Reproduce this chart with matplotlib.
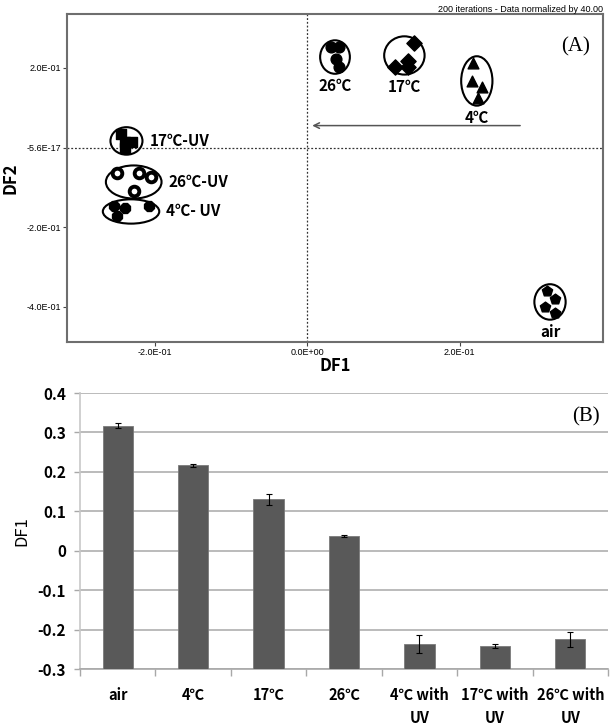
import matplotlib
matplotlib.use("Agg")
import matplotlib.pyplot as plt
from matplotlib.patches import Ellipse
from matplotlib import font_manager
import numpy as np

# ---------- data ----------
# panel A: discriminant function scores per group (4 replicates each)
groups = ["26℃", "17℃", "4℃", "air", "17℃-UV", "26℃-UV", "4℃- UV"]
df1_scores = [
    [0.031, 0.042, 0.038, 0.042],
    [0.140, 0.115, 0.132, 0.132],
    [0.217, 0.216, 0.229, 0.224],
    [0.314, 0.325, 0.312, 0.325],
    [-0.244, -0.239, -0.230, -0.239],
    [-0.250, -0.220, -0.205, -0.227],
    [-0.254, -0.239, -0.208, -0.250],
]
df2_scores = [
    [0.251, 0.251, 0.221, 0.203],
    [0.261, 0.203, 0.216, 0.201],
    [0.211, 0.168, 0.151, 0.123],
    [-0.361, -0.381, -0.401, -0.414],
    [0.033, 0.013, 0.013, 0.000],
    [-0.063, -0.063, -0.073, -0.110],
    [-0.148, -0.153, -0.148, -0.173],
]
xticks_a = [-0.2, 0.0, 0.2]
xticklabels_a = ["-2.0E-01", "0.0E+00", "2.0E-01"]
yticks_a = [0.2, 0.0, -0.2, -0.4]
yticklabels_a = ["2.0E-01", "-5.6E-17", "-2.0E-01", "-4.0E-01"]
arrow_from = (0.283, 0.055)
arrow_to = (0.003, 0.055)

# panel B: mean DF1 per condition with error
conditions = ["air", "4℃", "17℃", "26℃", "4℃ with\nUV", "17℃ with\nUV", "26℃ with\nUV"]
df1_mean = [0.317, 0.217, 0.130, 0.038, -0.237, -0.242, -0.225]
df1_err = [0.007, 0.004, 0.015, 0.003, 0.022, 0.005, 0.020]

# ---------- styles ----------
markers = ["o", "D", "^", "p", "s", "o", "8"]
hollow = [False, False, False, False, False, True, False]
label_side = ["below", "below", "below", "below", "right", "right", "right"]


def pick(*names):
    have = {f.name for f in font_manager.fontManager.ttflist}
    return [n for n in names if n in have][:1] + ["DejaVu Sans"]


narrow = pick("Liberation Sans Narrow", "Liberation Sans", "Arimo")
kor = pick("Noto Sans CJK KR", "Noto Sans CJK JP", "Noto Sans CJK SC", "Noto Sans CJK TC")
serif = pick("Liberation Serif", "DejaVu Serif")

fig = plt.figure(figsize=(6.12, 7.26), dpi=100)

# ---------- panel A ----------
ax = fig.add_axes([67 / 612, 1 - 342 / 726, 536 / 612, 328 / 726])
ax.set_xlim(-0.315, 0.388)
ax.set_ylim(-0.488, 0.335)
ax.axvline(0, color="#333333", lw=0.9, ls=(0, (1.5, 1.5)), zorder=1)
ax.axhline(0, color="#333333", lw=0.9, ls=(0, (1.5, 1.5)), zorder=1)

pad_x, pad_y = 0.028, 0.036
for i, g in enumerate(groups):
    xs = np.array(df1_scores[i])
    ys = np.array(df2_scores[i])
    if hollow[i]:
        ax.scatter(xs, ys, s=48, marker=markers[i], facecolor="white",
                   edgecolor="black", linewidths=2.8, zorder=3)
    else:
        ax.scatter(xs, ys, s=60, marker=markers[i], color="black", zorder=3)
    cx = (xs.min() + xs.max()) / 2
    cy = (ys.min() + ys.max()) / 2
    w = xs.max() - xs.min() + pad_x
    h = ys.max() - ys.min() + pad_y
    ax.add_patch(Ellipse((cx, cy), w, h, fill=False, ec="black", lw=1.5, zorder=2))
    if label_side[i] == "below":
        ax.annotate(g, (cx, cy - h / 2), xytext=(0, -3), textcoords="offset points",
                    ha="center", va="top", fontsize=11, fontweight="bold", family=kor)
    else:
        ax.annotate(g, (cx + w / 2, cy), xytext=(5, 0), textcoords="offset points",
                    ha="left", va="center", fontsize=11, fontweight="bold", family=kor)

ax.annotate("", xy=arrow_to, xytext=arrow_from,
            arrowprops=dict(arrowstyle="->", color="#555555", lw=1.1))

for s in ax.spines.values():
    s.set_color("#6e6e6e")
    s.set_linewidth(1.5)
ax.set_xticks(xticks_a)
ax.set_xticklabels(xticklabels_a, family=narrow, fontsize=6.5)
ax.set_yticks(yticks_a)
ax.set_yticklabels(yticklabels_a, family=narrow, fontsize=6.5)
ax.tick_params(direction="out", length=3, width=0.8, color="#444444", pad=1.5)
ax.set_xlabel("DF1", fontsize=12, fontweight="bold", family=kor, labelpad=0)
ax.set_ylabel("DF2", fontsize=12, fontweight="bold", family=kor, labelpad=5)
ax.text(0.975, 0.9, "(A)", transform=ax.transAxes, ha="right", va="center",
        fontsize=15, family=serif)
fig.text(603 / 612, 1 - 10 / 726, "200 iterations - Data normalized by 40.00",
         ha="right", va="center", fontsize=6.5, family=narrow)

# ---------- panel B ----------
bx = fig.add_axes([80 / 612, 1 - 669 / 726, 528 / 612, 276 / 726])
pos = np.arange(len(conditions))
base = -0.3
bx.bar(pos, np.array(df1_mean) - base, bottom=base, width=0.4, color="#595959",
       edgecolor="#7a7a7a", lw=0.6, zorder=3)
bx.errorbar(pos, df1_mean, yerr=df1_err, fmt="none", ecolor="black",
            elinewidth=0.8, capsize=2.5, capthick=0.8, zorder=4)
bx.set_xlim(-0.5, len(conditions) - 0.5)
bx.set_ylim(-0.3, 0.4)
bx.set_yticks(np.arange(-0.3, 0.41, 0.1))
bx.set_yticklabels(["%g" % round(v, 1) for v in np.arange(-0.3, 0.41, 0.1)],
                   fontsize=11, fontweight="bold", family=kor)
bx.yaxis.grid(True, color="#a8a8a8", lw=1.1, zorder=0)
bx.set_axisbelow(True)
bx.set_xticks(pos)
bx.set_xticklabels(conditions, fontsize=10.5, fontweight="bold", family=kor,
                   linespacing=1.5, va="top")
bx.set_xticks(np.arange(-0.5, len(conditions)), minor=True)
bx.tick_params(axis="x", which="major", length=0, pad=13)
bx.tick_params(axis="x", which="minor", length=5, color="#a8a8a8", width=1)
bx.tick_params(axis="y", length=4, color="#a8a8a8", width=1, pad=6)
for k in ["top", "right"]:
    bx.spines[k].set_visible(False)
bx.spines["left"].set_color("#c8c8c8")
bx.spines["left"].set_linewidth(1.2)
bx.spines["bottom"].set_color("#a8a8a8")
bx.spines["bottom"].set_linewidth(1.2)
bx.set_ylabel("DF1", fontsize=12, family=kor, labelpad=5)
bx.text(0.985, 0.915, "(B)", transform=bx.transAxes, ha="right", va="center",
        fontsize=15, family=serif)

fig.savefig("out.png", dpi=100)
